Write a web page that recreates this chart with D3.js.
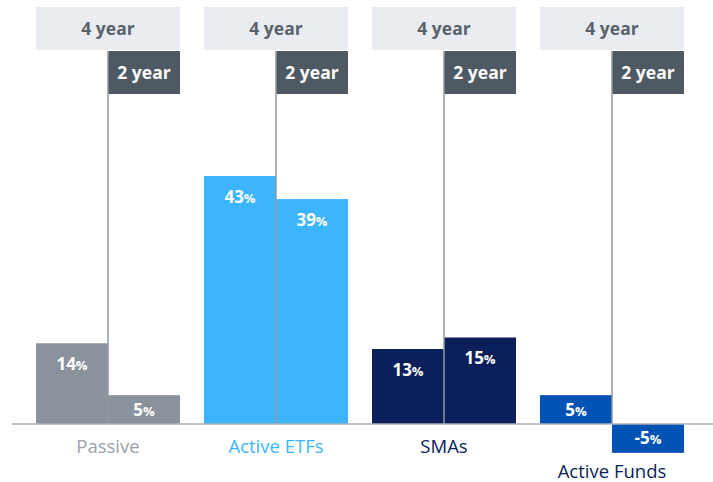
<!DOCTYPE html>
<html>
<head>
<meta charset="utf-8">
<script src="https://cdn.jsdelivr.net/npm/d3@7"></script>
<style>
    body { margin: 0; background: #fff; }
    svg { display: block; font-family: "Open Sans", sans-serif; }
</style>
</head>
<body>
<div class="chart"></div>
<script>
const categories = ["Passive", "Active ETFs", "SMAs", "Active Funds"];
const periods = ["4 year", "2 year"];
const fourYear = [14, 43, 13, 5];
const twoYear = [5, 39, 15, -5];
const colors = ["#8a939c", "#3db5fe", "#0b1f5a", "#0052b4"];
const labelColors = ["#9aa2aa", "#3db5fe", "#0b1f5a", "#0b1f5a"];

const w = 713,
    h = 482,
    baseY = 424;

const svg = d3.select(".chart")
    .append("svg")
    .attr("width", w)
    .attr("height", h);

const x = d3.scaleBand()
    .domain(categories)
    .range([24, 696])
    .paddingInner(24 / 168)
    .paddingOuter(12 / 168);

const sub = d3.scaleBand()
    .domain(periods)
    .range([0, x.bandwidth()]);

const y = d3.scaleLinear()
    .domain([0, 43])
    .range([baseY, 176]);

const data = categories.map((c, i) => ({
    cat: c,
    i: i,
    vals: [
        {p: periods[0], v: fourYear[i]},
        {p: periods[1], v: twoYear[i]}
    ]
}));

const g = svg.selectAll("g.group")
    .data(data)
    .enter()
    .append("g")
    .attr("class", "group")
    .attr("transform", d => "translate(" + x(d.cat) + ",0)");

// header boxes
g.append("rect")
    .attr("x", 0)
    .attr("y", 7)
    .attr("width", x.bandwidth())
    .attr("height", 43)
    .attr("fill", "#e9ecf0");
g.append("text")
    .attr("x", x.bandwidth() / 2)
    .attr("y", 35)
    .attr("text-anchor", "middle")
    .attr("fill", "#59626b")
    .style("font-size", "17.5px")
    .style("font-weight", "bold")
    .text(periods[0]);

g.append("rect")
    .attr("x", sub(periods[1]))
    .attr("y", 51)
    .attr("width", sub.bandwidth())
    .attr("height", 43)
    .attr("fill", "#4f5963");
g.append("text")
    .attr("x", sub(periods[1]) + sub.bandwidth() / 2)
    .attr("y", 79)
    .attr("text-anchor", "middle")
    .attr("fill", "#fff")
    .style("font-size", "17.5px")
    .style("font-weight", "bold")
    .text(periods[1]);

// bars
g.selectAll("rect.bar")
    .data(d => d.vals.map(v => Object.assign({i: d.i}, v)))
    .enter()
    .append("rect")
    .attr("class", "bar")
    .attr("x", d => sub(d.p))
    .attr("y", d => Math.min(y(d.v), y(0)))
    .attr("width", sub.bandwidth())
    .attr("height", d => Math.abs(y(d.v) - y(0)))
    .attr("fill", d => colors[d.i]);

// divider line
g.append("line")
    .attr("x1", sub(periods[1]))
    .attr("x2", sub(periods[1]))
    .attr("y1", 51)
    .attr("y2", baseY)
    .attr("stroke", "#8f98a1")
    .attr("stroke-width", 1.5);

// value labels
const vl = g.selectAll("text.val")
    .data(d => d.vals.map(v => Object.assign({i: d.i}, v)))
    .enter()
    .append("text")
    .attr("class", "val")
    .attr("x", d => sub(d.p) + sub.bandwidth() / 2)
    .attr("y", d => {
        const hgt = Math.abs(y(d.v) - y(0));
        if (d.v < 0) return y(0) + hgt / 2 + 6;
        if (hgt < 40) return y(d.v) + hgt / 2 + 6;
        return y(d.v) + 27;
    })
    .attr("text-anchor", "middle")
    .attr("fill", "#fff")
    .style("font-weight", "bold")
    .style("font-size", "17px");
vl.append("tspan").text(d => (d.v < 0 ? "-" : "") + Math.abs(d.v));
vl.append("tspan").style("font-size", "13px").text("%");

// baseline
svg.append("line")
    .attr("x1", 12)
    .attr("x2", w)
    .attr("y1", baseY)
    .attr("y2", baseY)
    .attr("stroke", "#a9b0b8")
    .attr("stroke-width", 1.5);

// category labels
g.append("text")
    .attr("x", x.bandwidth() / 2)
    .attr("y", d => d.vals[1].v < 0 ? 478 : 453)
    .attr("text-anchor", "middle")
    .attr("fill", d => labelColors[d.i])
    .style("font-size", "18.5px")
    .text(d => d.cat);
</script>
</body>
</html>
